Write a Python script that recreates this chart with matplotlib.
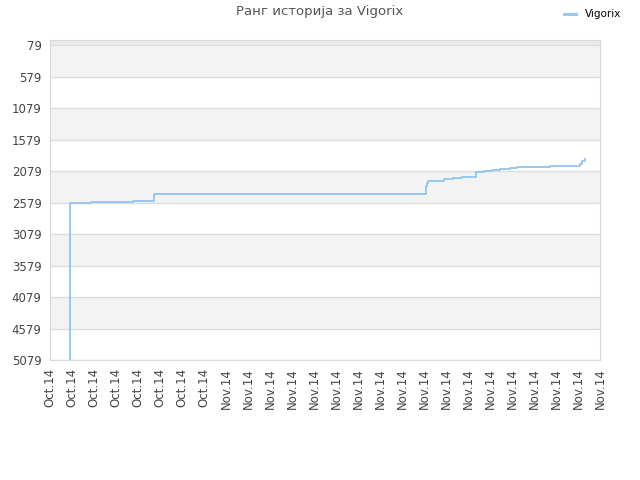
import matplotlib
matplotlib.use("Agg")
import matplotlib.pyplot as plt
from matplotlib.lines import Line2D

# Data
x_labels = ["Oct.14"] * 8 + ["Nov.14"] * 18
x_pos = [0.91, 0.92, 1.86, 3.77, 4.73, 17.08, 17.14, 17.2, 17.45, 17.91, 18.32,
         18.73, 19.36, 19.73, 20.09, 20.45, 20.91, 21.23, 22.73, 24.09, 24.2, 24.32]
rank = [5079, 2587, 2571, 2555, 2446, 2324, 2276, 2244, 2233, 2212, 2196,
        2180, 2096, 2085, 2069, 2053, 2037, 2021, 2001, 1960, 1920, 1894]
y_ticks = [79, 579, 1079, 1579, 2079, 2579, 3079, 3579, 4079, 4579, 5079]
title = "Ранг историја за Vigorix"
series_name = "Vigorix"

fig = plt.figure(figsize=(6.4, 4.8), dpi=100)
ax = fig.add_axes([50 / 640, 1 - 360 / 480, 550 / 640, 320 / 480])

ax.set_ylim(5079, -1)
ax.set_xlim(0, len(x_labels) - 1)

# Alternating bands
ax.axhspan(-1, y_ticks[0], color="#ececec", zorder=0, lw=0)
for i in range(len(y_ticks) - 1):
    if i % 2 == 0:
        ax.axhspan(y_ticks[i], y_ticks[i + 1], color="#f3f3f3", zorder=0, lw=0)
for t in y_ticks:
    ax.axhline(t, color="#dddddd", lw=1, zorder=1)

ax.plot(x_pos, rank, drawstyle="steps-post", color="#92c3f3", lw=1.3, zorder=3)

ax.set_yticks(y_ticks)
ax.set_yticklabels([str(t) for t in y_ticks], fontsize=8.5, color="#444444")
ax.set_xticks(range(len(x_labels)))
ax.set_xticklabels(x_labels, rotation=90, fontsize=8.5, color="#444444")
ax.tick_params(length=0, pad=6)
for s in ax.spines.values():
    s.set_color("#d8d8d8")

fig.text(0.5, 1 - 12 / 480, title, ha="center", va="center", fontsize=9.5, color="#555555")

handle = Line2D([], [], color="#92c3f3", lw=2)
fig.legend([handle], [series_name], loc="upper right", bbox_to_anchor=(0.985, 1.0),
           frameon=False, fontsize=7.5, handlelength=1.2, handletextpad=0.8)

fig.savefig("out.png", dpi=100)
